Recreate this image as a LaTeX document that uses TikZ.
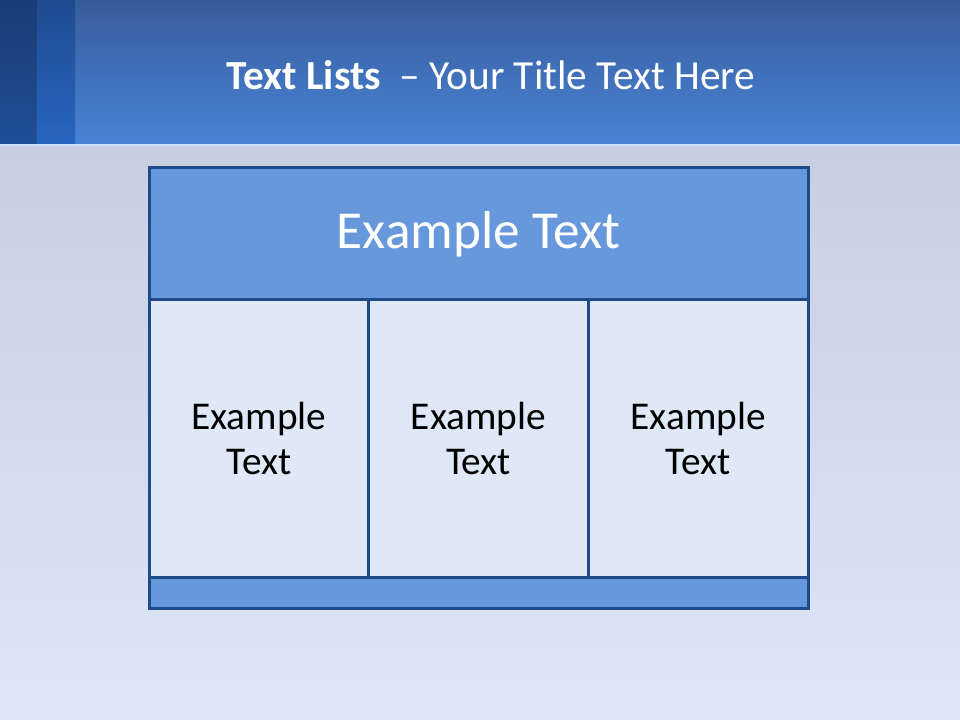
\documentclass[tikz,border=0pt]{standalone}
\usepackage{fontspec}
\setmainfont{Carlito}
\usetikzlibrary{positioning}
\definecolor{bandtop}{HTML}{375C9C}
\definecolor{bandbot}{HTML}{4A84D6}
\definecolor{stripAtop}{HTML}{1A3C78}
\definecolor{stripAbot}{HTML}{1F4F96}
\definecolor{stripBtop}{HTML}{1F4B8F}
\definecolor{stripBbot}{HTML}{2866C2}
\definecolor{skytop}{HTML}{C8CEE1}
\definecolor{skybot}{HTML}{DDE6F6}
\definecolor{framecol}{HTML}{1F4A8A}
\definecolor{headfill}{HTML}{6898DC}
\definecolor{cellfill}{HTML}{DFE8F7}
\begin{document}
\begin{tikzpicture}[
    x=0.75pt, y=-0.75pt,
    every node/.style={font=\fontsize{29.5}{34}\selectfont},
    cellbase/.style={
        draw=framecol, line width=2.25pt, outer sep=0pt, inner sep=0pt,
        align=center
    },
    headbox/.style={
        cellbase, fill=headfill, text=white,
        minimum width=494.25pt, minimum height=99pt,
        font=\fontsize{40}{48}\selectfont
    },
    colbox/.style={
        cellbase, fill=cellfill, text=black,
        minimum width=164.75pt, minimum height=207.75pt
    },
    footbox/.style={
        cellbase, fill=headfill,
        minimum width=494.25pt, minimum height=23.25pt
    }
]
\useasboundingbox (0,0) rectangle (960,720);

% Hintergrund
\shade[top color=skytop, bottom color=skybot] (0,145) rectangle (960,720);
\shade[top color=bandtop, bottom color=bandbot] (0,0) rectangle (960,145);
\shade[top color=stripAtop, bottom color=stripAbot] (0,0) rectangle (37,145);
\shade[top color=stripBtop, bottom color=stripBbot] (37,0) rectangle (75,145);
\draw[white!70!bandbot, line width=1pt] (0,145) -- (960,145);

% Titel
\node[text=white, font=\fontsize{31}{37}\selectfont] (title) at (491,75)
    {\textbf{Text Lists}\ \ – Your Title Text Here};

% Tabelle
\node[headbox, anchor=north west] (head) at (149,168) {Example Text};
\node[colbox, below=0pt of head.south west, anchor=north west] (colA) {Example\\Text};
\node[colbox, right=0pt of colA] (colB) {Example\\Text};
\node[colbox, right=0pt of colB] (colC) {Example\\Text};
\node[footbox, below=0pt of colA.south west, anchor=north west] (foot) {};

\end{tikzpicture}
\end{document}
